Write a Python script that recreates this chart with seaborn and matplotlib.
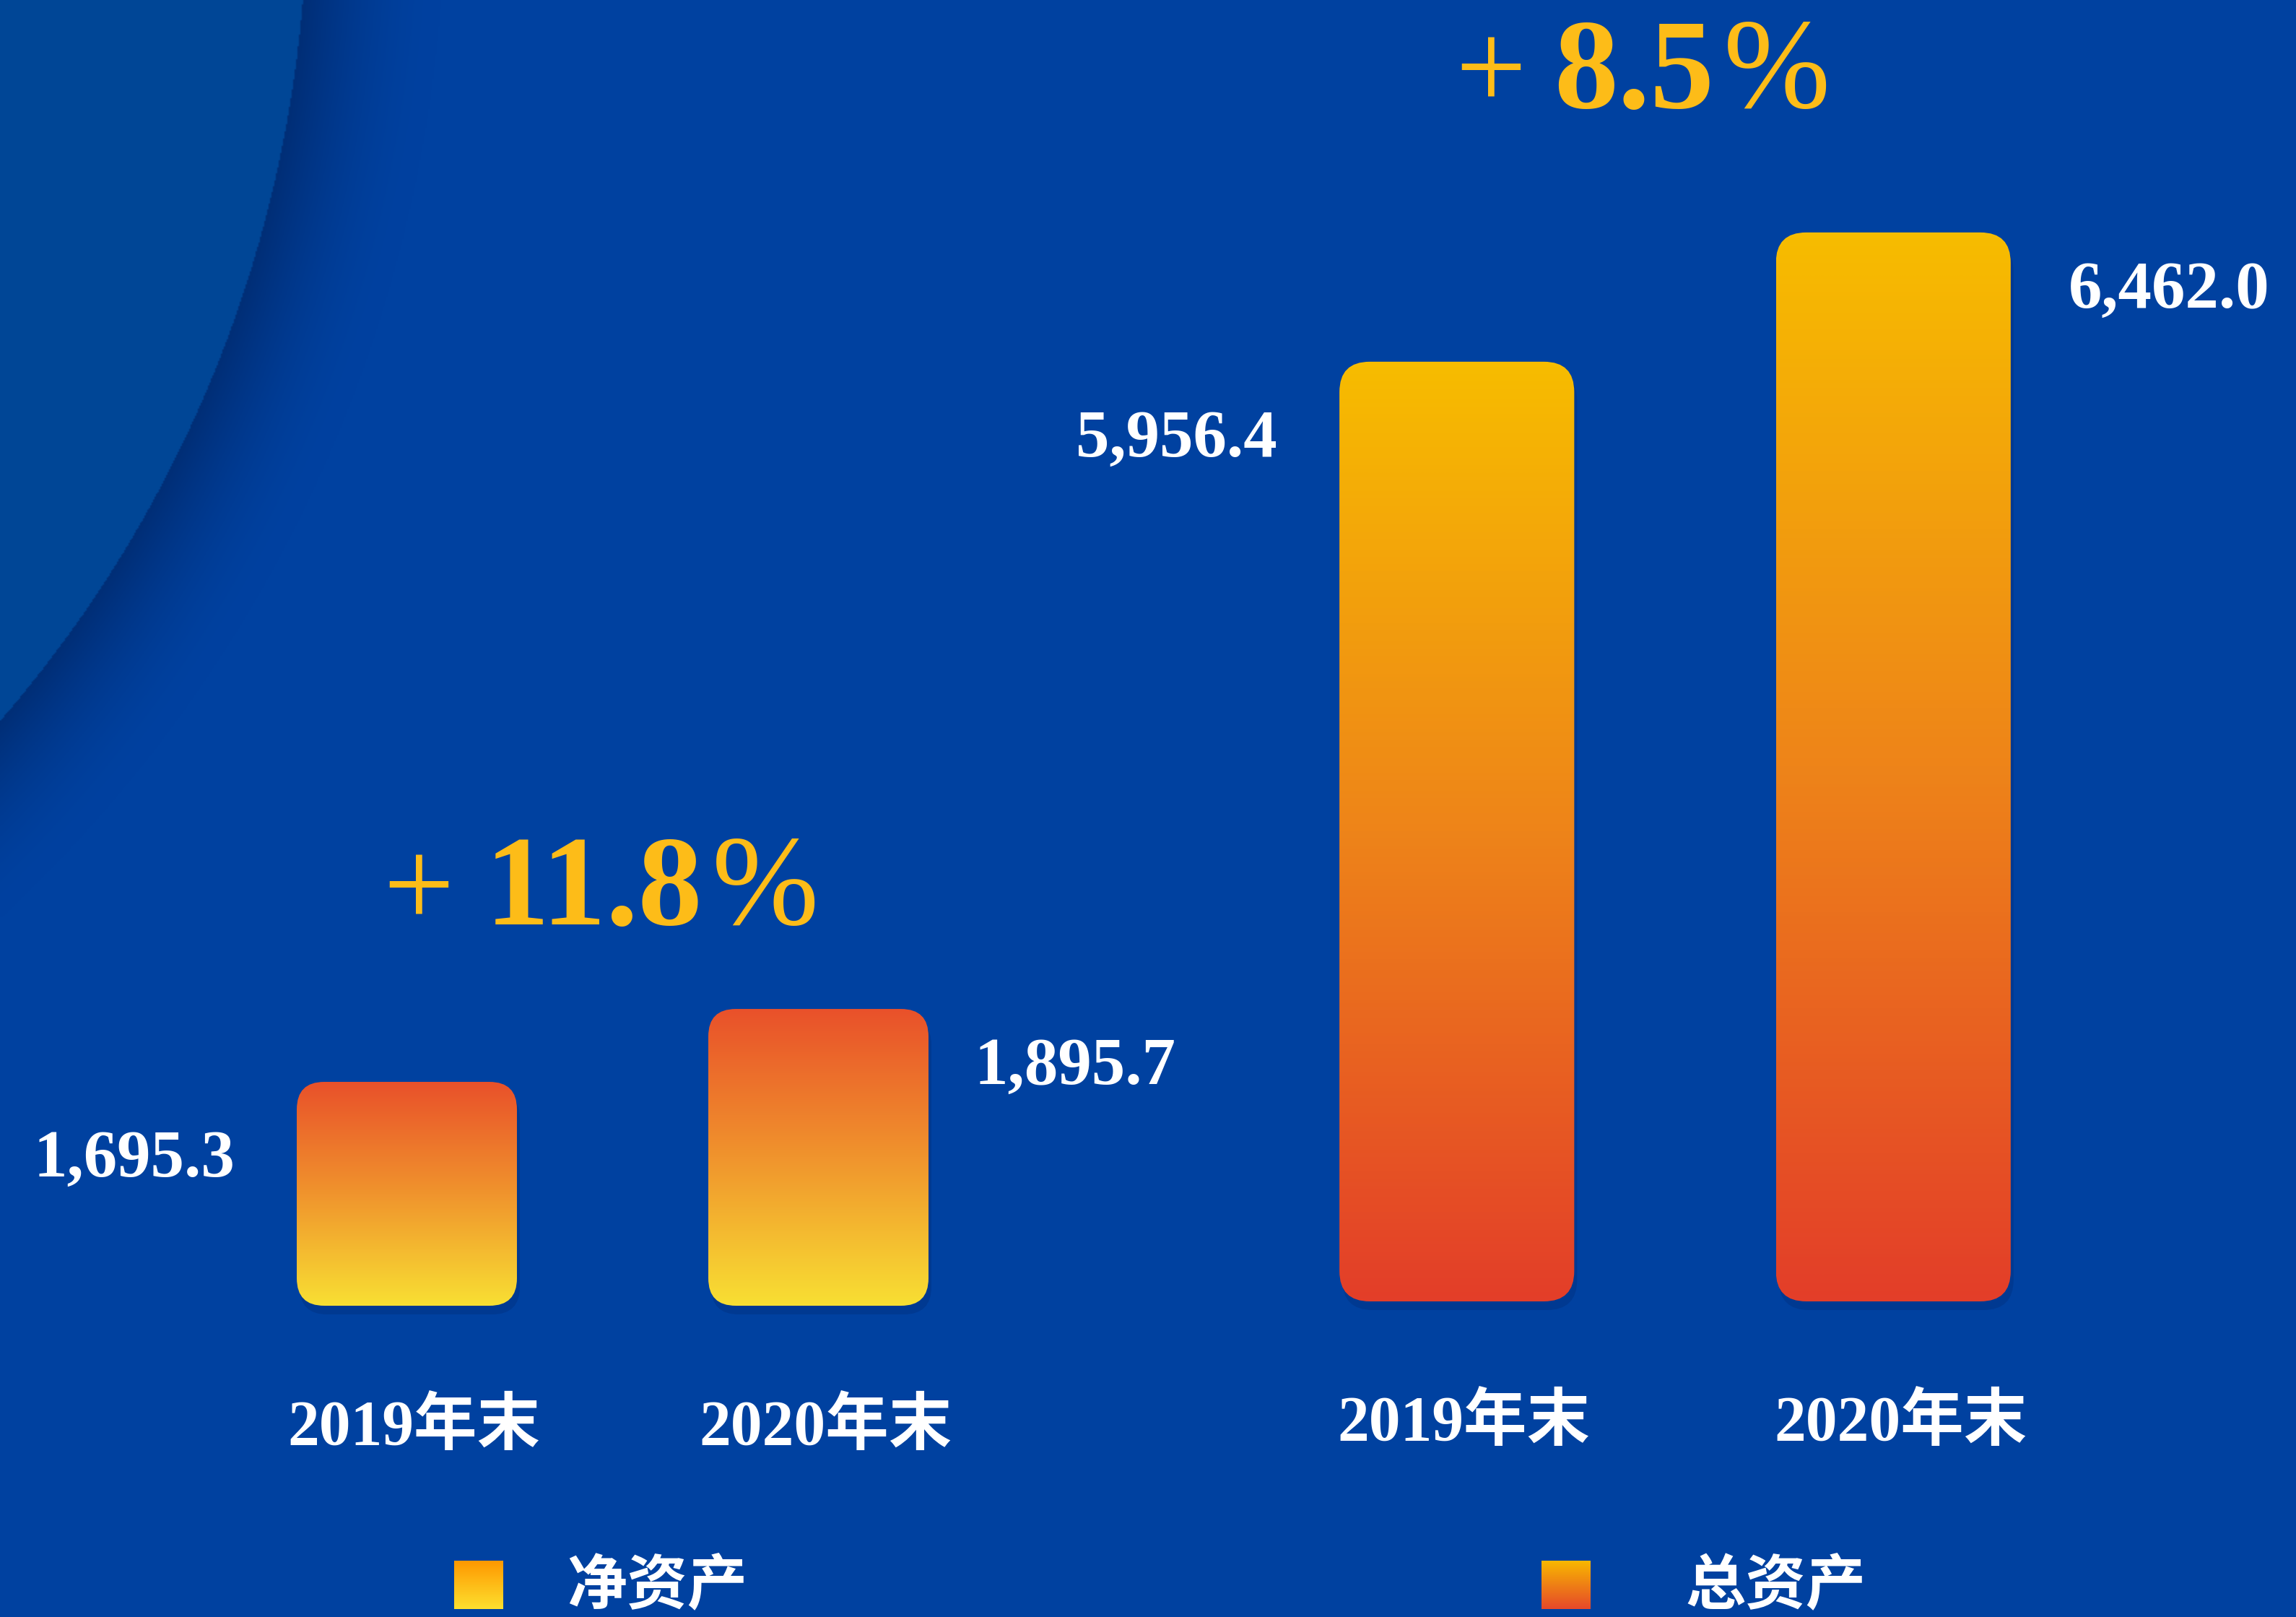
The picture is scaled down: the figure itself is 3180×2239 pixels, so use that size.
import numpy as np
import pandas as pd
import seaborn as sns
import matplotlib.pyplot as plt
from matplotlib.patches import FancyBboxPatch
from matplotlib.colors import LinearSegmentedColormap
from matplotlib.transforms import ScaledTranslation

sns.set_style("white")
plt.rcParams['font.family'] = ['Liberation Serif', 'Noto Sans CJK SC', 'DejaVu Sans']

W, H = 3180, 2239
BG = '#0041A0'
GOLD = '#FDBC18'
MIXED = ['Liberation Serif', 'Noto Sans CJK SC']
CJK = ['Noto Sans CJK SC', 'DejaVu Sans']

# %% Data

years = ['2019年末', '2020年末']
net_assets = [1695.3, 1895.7]
total_assets = [5956.4, 6462.0]
series = ['净资产', '总资产']
growth = ['11.8', '8.5']

net_colors = ['#E9512A', '#F0942D', '#F8DF33']
total_colors = ['#F7BC00', '#EE8419', '#E33E29']
legend_colors = [['#FF9800', '#FDE02F'], ['#F8B800', '#E6482A']]


def gradient_box(ax, x0, y0, x1, y1, colors, radius, zorder=3):
    # y0 is the top edge (axes run top-down in pixels)
    box = FancyBboxPatch((x0, y0), x1 - x0, y1 - y0,
                         boxstyle=f'round,pad=0,rounding_size={radius}',
                         fc='none', ec='none', zorder=zorder)
    ax.add_patch(box)
    cmap = LinearSegmentedColormap.from_list('g', colors)
    im = ax.imshow(np.linspace(0, 1, 256).reshape(-1, 1), cmap=cmap,
                   extent=(x0, x1, y1, y0), origin='upper', aspect='auto',
                   interpolation='bilinear', zorder=zorder)
    im.set_clip_path(box)


fig = plt.figure(figsize=(W / 100, H / 100), dpi=100)
fig.patch.set_facecolor(BG)

# %% Background with the big arc

bg = fig.add_axes([0, 0, 1, 1], zorder=0)
bg.set_xlim(0, W)
bg.set_ylim(H, 0)
bg.axis('off')
yy, xx = np.mgrid[0:H:2, 0:W:2].astype(np.float32)
d = np.hypot(xx + 1312, yy + 140) - 1736
base = np.array([0, 65, 160], dtype=np.float32) / 255
dark = np.array([0, 46, 118], dtype=np.float32) / 255
inner = np.array([0, 70, 150], dtype=np.float32) / 255
a = (np.clip(1 - d / 190, 0, 1) ** 1.8)[..., None]
img = base * (1 - a) + dark * a
img[d <= 0] = inner
bg.imshow(img, extent=(0, W, H, 0), origin='upper', aspect='auto', interpolation='bilinear')

# %% Overlay in pixel coordinates

ov = fig.add_axes([0, 0, 1, 1], zorder=3)
ov.set_xlim(0, W)
ov.set_ylim(H, 0)
ov.axis('off')
ov.patch.set_alpha(0)

# %% Bars

groups = [
    (net_assets, net_colors, [278.5, 431, 1140, 1000], (1080, 3065), 0.535, 38, 64),
    (total_assets, total_colors, [1715.5, 437, 1209, 1700], (2281, 7083), 0.538, 42, 80),
]

shift = ScaledTranslation(0.1, 0, fig.dpi_scale_trans)

for values, colors, rect, ylim, width, radius, gap in groups:
    ax = fig.add_axes([rect[0] / W, rect[1] / H, rect[2] / W, rect[3] / H], zorder=2)
    df = pd.DataFrame({'year': years, 'value': values})
    sns.barplot(data=df, x='year', y='value', ax=ax, width=width, color=colors[0])
    ax.set_xlim(-0.5, 1.5)
    ax.set_ylim(*ylim)
    ax.patch.set_alpha(0)
    sns.despine(ax=ax, left=True, bottom=True)
    ax.set_yticks([])
    ax.set_xlabel('')
    ax.set_ylabel('')
    ax.tick_params(axis='x', length=0, pad=92, labelsize=63, labelcolor='white')
    for lab in ax.get_xticklabels():
        lab.set_fontfamily(MIXED)
        lab.set_fontweight('bold')
        lab.set_transform(lab.get_transform() + shift)

    to_px = ov.transData.inverted()
    for i, p in enumerate(ax.patches):
        (x0, yb), (x1, yt) = to_px.transform(ax.transData.transform(
            [(p.get_x(), ylim[0]), (p.get_x() + p.get_width(), p.get_height())]))
        p.set_visible(False)
        ov.add_patch(FancyBboxPatch((x0 + 4, yt + 12), x1 - x0, yb - yt,
                                    boxstyle=f'round,pad=0,rounding_size={radius}',
                                    fc='#00307F', ec='none', alpha=0.45, zorder=2))
        gradient_box(ov, x0, yt, x1, yb, colors, radius)
        label = f'{values[i]:,.1f}'
        if i == 0:
            ov.text(x0 - 86, yt + 131, label, ha='right', va='baseline', fontsize=67,
                    fontweight='bold', color='white', family=MIXED)
        else:
            ov.text(x1 + gap, yt + 104, label, ha='left', va='baseline', fontsize=67,
                    fontweight='bold', color='white', family=MIXED)

# %% Growth annotations

for (px, bx, by), g in zip([(580, 672, 1280), (2065, 2152, 149)], growth):
    ov.text(px, by - 58, '+', ha='center', va='center_baseline', fontsize=126,
            color=GOLD, family=MIXED)
    t = ov.text(bx, by, g, ha='left', va='baseline', fontsize=128,
                fontweight='bold', color=GOLD, family=MIXED)
    ov.annotate('%', xy=(1, 0), xycoords=t, xytext=(9, 0), textcoords='offset points',
                ha='left', va='bottom', fontsize=128, color=GOLD, family=MIXED)

# %% Legend

for (sx, tx), name, cols in zip([(629, 785), (2135, 2334)], series, legend_colors):
    gradient_box(ov, sx, 2161, sx + 68, 2228, cols, 0)
    ov.text(tx, 2196, name, ha='left', va='center', fontsize=60,
            fontweight='bold', color='white', family=CJK)

fig.savefig('out.png', dpi=100, facecolor=BG)
